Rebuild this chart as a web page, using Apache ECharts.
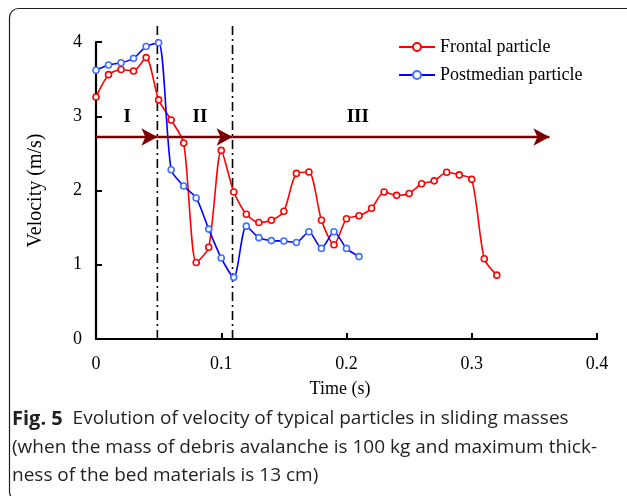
<!DOCTYPE html>
<html>
<head>
<meta charset="utf-8">
<script src="https://cdn.jsdelivr.net/npm/echarts@6/dist/echarts.min.js"></script>
<style>html,body{margin:0;padding:0;background:#fff;}#c{width:627px;height:496px;}</style>
</head>
<body>
<div id="c"></div>
<script>
// ---- data ----
const frontalTime = [0,0.01,0.02,0.03,0.04,0.05,0.06,0.07,0.08,0.09,0.10,0.11,0.12,0.13,0.14,0.15,0.16,0.17,0.18,0.19,0.20,0.21,0.22,0.23,0.24,0.25,0.26,0.27,0.28,0.29,0.30,0.31,0.32];
const frontalVel  = [3.26,3.56,3.63,3.61,3.79,3.22,2.95,2.64,1.03,1.235,2.54,1.98,1.68,1.57,1.60,1.72,2.23,2.25,1.60,1.27,1.62,1.66,1.76,1.98,1.935,1.96,2.09,2.13,2.245,2.21,2.15,1.08,0.86];
const postTime = [0,0.01,0.02,0.03,0.04,0.05,0.06,0.07,0.08,0.09,0.10,0.11,0.12,0.13,0.14,0.15,0.16,0.17,0.18,0.19,0.20,0.21];
const postVel  = [3.62,3.69,3.72,3.78,3.94,3.99,2.28,2.06,1.90,1.48,1.09,0.83,1.52,1.365,1.325,1.32,1.30,1.445,1.22,1.445,1.22,1.11];
const seriesNames = ['Frontal particle','Postmedian particle'];
const xTickLabels = ['0','0.1','0.2','0.3','0.4'];
const yTickLabels = ['0','1','2','3','4'];
const phaseBounds = [0.049, 0.109];   // dash-dot stage dividers (s)
const dividerTop = 4.22;              // top of divider lines (m/s)
const arrowLevel = 2.72;              // velocity level of stage arrows
const arrowEnd = 0.362;               // end time of last arrow
const phaseNames = ['I','II','III'];
const phaseLabelX = [0.025, 0.083, 0.209];
const phaseLabelY = 2.99;
const captionBold = 'Fig. 5';
const captionLines = [
  'Evolution of velocity of typical particles in sliding masses',
  '(when the mass of debris avalanche is 100 kg and maximum thick-',
  'ness of the bed materials is 13 cm)'
];

const serif = 'Liberation Serif, Times New Roman, serif';
const sans = 'Open Sans, Noto Sans, sans-serif';
const arrowColor = '#7a0000';

const chart = echarts.init(document.getElementById('c'), null, {renderer:'canvas'});

const arrowStarts = [0, phaseBounds[0], phaseBounds[1]];
const arrowEnds = [phaseBounds[0], phaseBounds[1], arrowEnd];

const dividerSeries = phaseBounds.map((b, i) => ({
  name: 'divider' + i, type: 'line', clip: false, silent: true, symbol: 'none',
  data: [[b, 0], [b, dividerTop]],
  lineStyle: {color: '#000', width: 1.6, type: [9, 4, 2, 4]},
  z: 1
}));

const option = {
  animation: false,
  backgroundColor: '#fff',
  grid: {left: 96, right: 30, top: 42, bottom: 157, containLabel: false},
  legend: {
    orient: 'vertical', left: 393, top: 33, itemWidth: 36, itemHeight: 10, itemGap: 10,
    textStyle: {fontFamily: serif, fontSize: 18, color: '#000'},
    data: seriesNames
  },
  xAxis: {
    type: 'value', min: 0, max: 0.4, interval: 0.1,
    name: 'Time (s)', nameLocation: 'middle', nameGap: 41,
    nameTextStyle: {fontFamily: serif, fontSize: 18, color: '#000', padding: [0, 13, 0, 0]},
    axisLine: {lineStyle: {color: '#000', width: 2.2}},
    axisTick: {inside: true, length: 6, lineStyle: {color: '#000', width: 2}},
    axisLabel: {fontFamily: serif, fontSize: 18, color: '#000', margin: 16,
      formatter: (v) => xTickLabels[Math.round(v / 0.1)]},
    splitLine: {show: false}
  },
  yAxis: {
    type: 'value', min: 0, max: 4, interval: 1,
    name: 'Velocity (m/s)', nameLocation: 'middle', nameGap: 50,
    nameTextStyle: {fontFamily: serif, fontSize: 20, color: '#000'},
    axisLine: {show: true, lineStyle: {color: '#000', width: 2.2}},
    axisTick: {show: true, inside: true, length: 6, lineStyle: {color: '#000', width: 2}},
    axisLabel: {fontFamily: serif, fontSize: 18, color: '#000', margin: 14,
      formatter: (v) => yTickLabels[Math.round(v)]},
    splitLine: {show: false}
  },
  series: [
    {
      name: seriesNames[0], type: 'line', smooth: 0.25, clip: false,
      data: frontalTime.map((t, i) => [t, frontalVel[i]]),
      symbol: 'circle', symbolSize: 6, showAllSymbol: true,
      lineStyle: {color: '#ff0000', width: 1.6},
      itemStyle: {color: '#fff', borderColor: '#ff0000', borderWidth: 1.6},
      z: 3
    },
    {
      name: seriesNames[1], type: 'line', smooth: 0.25, clip: false,
      data: postTime.map((t, i) => [t, postVel[i]]),
      symbol: 'circle', symbolSize: 6, showAllSymbol: true,
      lineStyle: {color: '#0000ff', width: 1.6},
      itemStyle: {color: '#fff', borderColor: '#3f6fff', borderWidth: 1.6},
      z: 4
    },
    ...dividerSeries,
    {
      name: 'annotations', type: 'line', data: [], clip: false, silent: true,
      markLine: {
        silent: true, animation: false,
        label: {show: false},
        lineStyle: {color: arrowColor, width: 2.4, type: 'solid'},
        data: arrowStarts.map((s, i) => [
          {coord: [s, arrowLevel], symbol: 'none'},
          {coord: [arrowEnds[i], arrowLevel], symbol: 'arrow', symbolSize: [13, 16]}
        ])
      },
      markPoint: {
        silent: true, symbol: 'circle', symbolSize: 0,
        label: {show: true, position: 'inside', fontFamily: serif, fontWeight: 'bold', fontSize: 19, color: '#000',
          formatter: (p) => p.name},
        data: phaseNames.map((n, i) => ({name: n, coord: [phaseLabelX[i], phaseLabelY]}))
      }
    }
  ],
  graphic: [
    {type: 'rect', silent: true, shape: {x: 9.5, y: 8.5, width: 700, height: 492, r: 9},
      style: {fill: 'none', stroke: '#231f20', lineWidth: 1.2}},
    {type: 'text', left: 12, top: 409, silent: true,
      style: {text: '{b|' + captionBold + '}  ' + captionLines[0], fontFamily: sans, fontSize: 19, fill: '#231f20',
        rich: {b: {fontFamily: sans, fontWeight: 'bold', fontSize: 20, fill: '#231f20'}}}},
    {type: 'text', left: 12, top: 438, silent: true,
      style: {text: captionLines[1], fontFamily: sans, fontSize: 19, fill: '#231f20'}},
    {type: 'text', left: 12, top: 466, silent: true,
      style: {text: captionLines[2], fontFamily: sans, fontSize: 19, fill: '#231f20'}}
  ]
};
chart.setOption(option);
</script>
</body>
</html>
